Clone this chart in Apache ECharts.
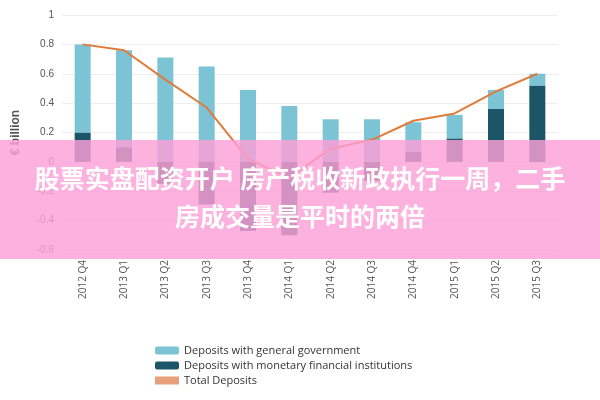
<!DOCTYPE html>
<html>
<head>
<meta charset="utf-8">
<script src="https://cdn.jsdelivr.net/npm/echarts@6/dist/echarts.min.js"></script>
<style>
  html, body { margin: 0; padding: 0; background: #fff; }
  #chart { width: 600px; height: 400px; }
</style>
</head>
<body>
<div id="chart"></div>
<script>
const quarters = ["2012 Q4", "2013 Q1", "2013 Q2", "2013 Q3", "2013 Q4", "2014 Q1",
                  "2014 Q2", "2014 Q3", "2014 Q4", "2015 Q1", "2015 Q2", "2015 Q3"];
const govDeposits = [0.60, 0.66, 0.71, 0.65, 0.49, 0.38, 0.29, 0.29, 0.20, 0.16, 0.13, 0.08];
const mfiDeposits = [0.20, 0.10, -0.15, -0.29, -0.47, -0.50, -0.21, -0.13, 0.07, 0.16, 0.36, 0.52];
const totalDeposits = [0.80, 0.76, 0.56, 0.37, 0.02, -0.11, 0.09, 0.15, 0.28, 0.33, 0.48, 0.60];
const yTicks = [-0.6, -0.4, -0.2, 0, 0.2, 0.4, 0.6, 0.8, 1];

const chart = echarts.init(document.getElementById("chart"));

chart.setOption({
    animation: false,
    grid: { left: 62, right: 42, top: 15, bottom: 150 },
    legend: {
        orient: "vertical",
        left: 150,
        top: 340,
        itemWidth: 24,
        itemHeight: 8,
        itemGap: 4,
        textStyle: { fontFamily: "Open Sans", fontSize: 11, color: "#333" },
        data: [
            { name: "Deposits with general government" },
            { name: "Deposits with monetary financial institutions" },
            { name: "Total Deposits", icon: "rect", itemStyle: { color: "#e8a07a" } }
        ]
    },
    xAxis: {
        type: "category",
        data: quarters,
        axisLine: { show: false },
        axisTick: { show: false },
        axisLabel: { rotate: 90, fontSize: 10, color: "#555", fontFamily: "Open Sans", margin: 10 }
    },
    yAxis: {
        type: "value",
        min: -0.6,
        max: 1,
        interval: 0.2,
        name: "€ billion",
        nameLocation: "middle",
        nameGap: 40,
        nameTextStyle: { fontSize: 12, fontWeight: "bold", color: "#555" },
        axisLabel: {
            fontSize: 10, color: "#555",
            formatter: v => yTicks.find(t => Math.abs(t - v) < 1e-6).toString()
        },
        splitLine: { lineStyle: { color: "#eee" } }
    },
    series: [
        {
            name: "Deposits with monetary financial institutions",
            type: "bar", stack: "d", barWidth: 16,
            itemStyle: { color: "#1d5568" },
            data: mfiDeposits
        },
        {
            name: "Deposits with general government",
            type: "bar", stack: "d", barWidth: 16,
            itemStyle: { color: "#7cc3d6" },
            data: govDeposits
        },
        {
            name: "Total Deposits",
            type: "line",
            symbol: "none",
            lineStyle: { color: "#e07b39", width: 2 },
            itemStyle: { color: "#e07b39" },
            data: totalDeposits
        }
    ],
    graphic: [
        {
            type: "rect",
            shape: { x: 0, y: 140, width: 600, height: 119 },
            style: { fill: "rgba(252, 160, 215, 0.82)" },
            z: 100
        },
        {
            type: "text",
            left: "center", top: 166,
            style: { text: "股票实盘配资开户 房产税收新政执行一周，二手", fill: "#fff",
                     font: "bold 25px 'Noto Sans CJK SC'" },
            z: 101
        },
        {
            type: "text",
            left: "center", top: 204,
            style: { text: "房成交量是平时的两倍", fill: "#fff",
                     font: "bold 25px 'Noto Sans CJK SC'" },
            z: 101
        }
    ]
});
</script>
</body>
</html>
